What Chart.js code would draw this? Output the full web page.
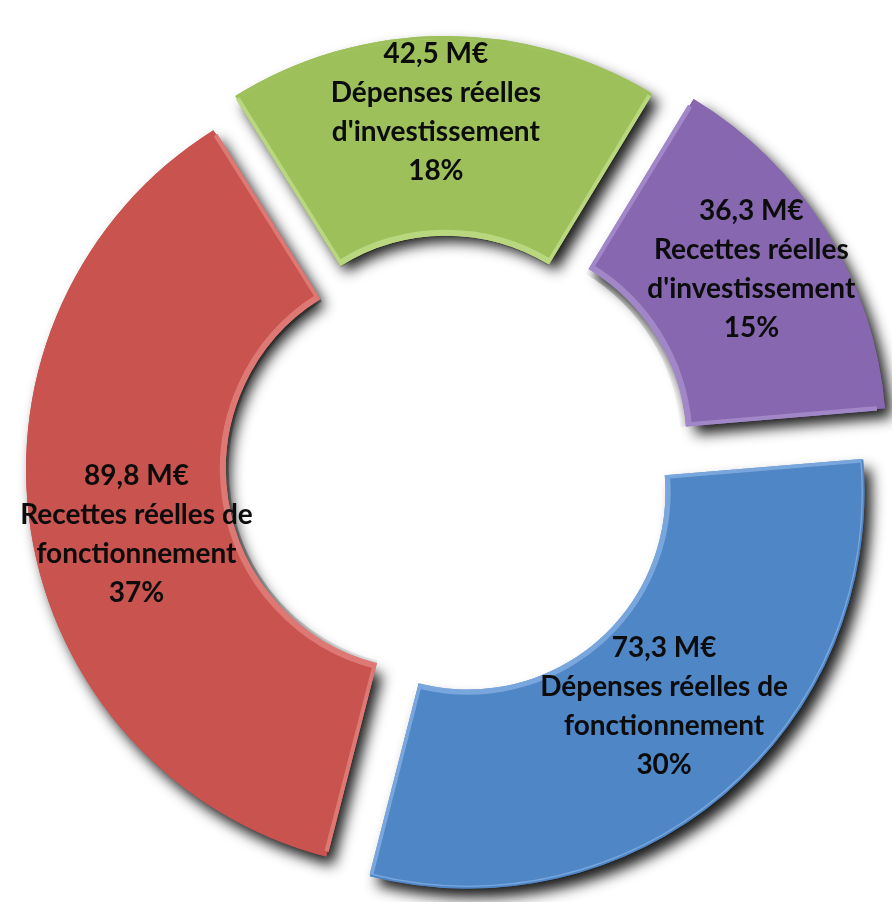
<!DOCTYPE html>
<html>
<head>
<meta charset="utf-8">
<script src="https://cdn.jsdelivr.net/npm/chart.js@4.4.1/dist/chart.umd.min.js"></script>
<style>
  html, body { margin: 0; padding: 0; background: #fff; }
  #wrap { width: 892px; height: 902px; }
</style>
</head>
<body>
<div id="wrap"><canvas id="budgetChart" width="892" height="902"></canvas></div>
<script>
// budget split, in millions of euros
const categories = [
  "Dépenses réelles d'investissement",
  "Recettes réelles d'investissement",
  "Dépenses réelles de fonctionnement",
  "Recettes réelles de fonctionnement"
];
const amounts = [42.5, 36.3, 73.3, 89.8];
const percents = [18, 15, 30, 37];
const labelLines = [
  ["Dépenses réelles", "d'investissement"],
  ["Recettes réelles", "d'investissement"],
  ["Dépenses réelles de", "fonctionnement"],
  ["Recettes réelles de", "fonctionnement"]
];
const sliceColors = ["#9dc05b", "#8767b0", "#4f86c6", "#c9534f"];
const edgeColors = ["#b9d77f", "#a287c8", "#79a6dc", "#de7874"];
// chart.js moves a slice by offset/4
const sliceOffsets = [128, 176, 136, 80];

// nudge of each label block from the middle of its slice
const labelShift = [[-8, -25], [16, -18], [5, -12], [3, 20]];

// drop shadow drawn under every slice
const shadowPlugin = {
  id: 'sliceShadow',
  beforeDatasetDraw(chart, args) {
    const ctx = chart.ctx;
    ctx.save();
    ctx.shadowColor = 'rgba(0,0,0,0.9)';
    ctx.shadowBlur = 14;
    ctx.shadowOffsetX = 7;
    ctx.shadowOffsetY = 9;
    args.meta.data.forEach(arc => arc.draw(ctx));
    ctx.restore();
  }
};

const labelPlugin = {
  id: 'sliceLabels',
  afterDatasetsDraw(chart) {
    const ctx = chart.ctx;
    const meta = chart.getDatasetMeta(0);
    const lineH = 39;
    ctx.save();
    ctx.font = 'bold 28px Lato';
    ctx.fillStyle = '#0c0c0c';
    ctx.textAlign = 'center';
    ctx.textBaseline = 'middle';
    meta.data.forEach((arc, i) => {
      const mid = (arc.startAngle + arc.endAngle) / 2;
      const rm = (arc.innerRadius + arc.outerRadius) / 2 + sliceOffsets[i] / 4;
      const lines = [amounts[i].toFixed(1).replace('.', ',') + ' M€']
        .concat(labelLines[i], [percents[i] + '%']);
      const x = arc.x + Math.cos(mid) * rm + labelShift[i][0];
      const y0 = arc.y + Math.sin(mid) * rm + labelShift[i][1] - (lines.length - 1) * lineH / 2;
      lines.forEach((t, k) => ctx.fillText(t, x, y0 + k * lineH));
    });
    ctx.restore();
  }
};

new Chart(document.getElementById('budgetChart'), {
  type: 'doughnut',
  data: {
    labels: categories,
    datasets: [{
      data: amounts,
      backgroundColor: sliceColors,
      borderColor: edgeColors,
      borderWidth: 3,
      borderAlign: 'inner',
      offset: sliceOffsets
    }]
  },
  options: {
    responsive: false,
    animation: false,
    rotation: -32,
    radius: 395,
    cutout: '50%',
    layout: { padding: { left: 0, right: 0, top: 30, bottom: 0 } },
    plugins: {
      legend: { display: false },
      tooltip: { enabled: false }
    }
  },
  plugins: [shadowPlugin, labelPlugin]
});
</script>
</body>
</html>
